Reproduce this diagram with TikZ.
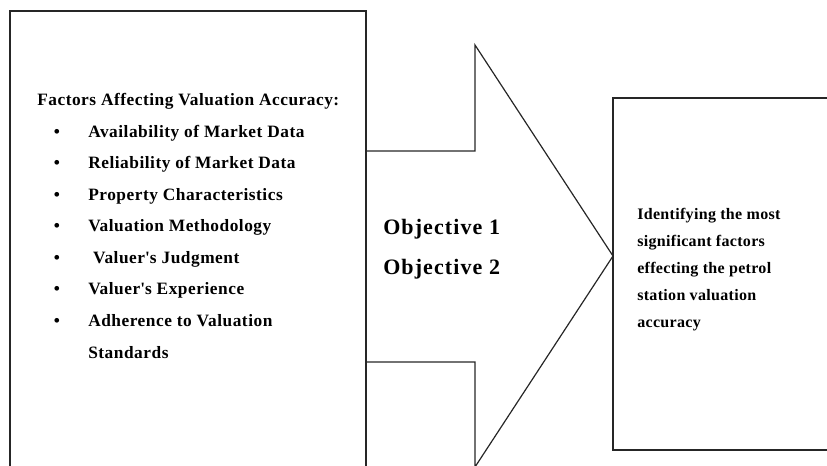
\documentclass[tikz,border=0pt]{standalone}
\usepackage{fontspec}
\setmainfont{Liberation Serif}
\newfontfamily\lsleft[LetterSpace=3]{Liberation Serif}
\newfontfamily\lsobj[LetterSpace=5]{Liberation Serif}
\newfontfamily\lsright[LetterSpace=2]{Liberation Serif}
\begin{document}
\begin{tikzpicture}[x=0.75pt,y=-0.75pt,
  outline/.style={draw=black!85,line width=0.9pt,line join=miter},
  lefttext/.style={anchor=base west,inner sep=0pt,font=\lsleft\bfseries\fontsize{13}{15}\selectfont},
  bul/.style={anchor=base,inner sep=0pt,font=\bfseries\fontsize{13}{15}\selectfont},
  objtext/.style={anchor=base west,inner sep=0pt,font=\lsobj\bfseries\fontsize{16.5}{19}\selectfont},
  righttext/.style={anchor=base west,inner sep=0pt,font=\lsright\bfseries\fontsize{12}{14}\selectfont}]
\useasboundingbox (0,0) rectangle (827,466);
% left box (bottom runs off the picture)
\coordinate (lbl) at (10,470);
\coordinate (ltl) at (10,11);
\coordinate (ltr) at (366,11);
\coordinate (lbr) at (366,470);
\draw[outline] (lbl) -- (ltl) -- (ltr) -- (lbr);
% block arrow
\coordinate (a1) at (366,151);
\coordinate (a2) at (475,151);
\coordinate (a3) at (475,45);
\coordinate (tip) at (613,256);
\coordinate (a5) at (475,467);
\coordinate (a6) at (475,362);
\coordinate (a7) at (366,362);
\draw[outline] (a1) -- (a2) -- (a3) -- (tip) -- (a5) -- (a6) -- (a7);
% right box (right side runs off the picture)
\coordinate (rtr) at (830,98);
\coordinate (rtl) at (613,98);
\coordinate (rbl) at (613,450);
\coordinate (rbr) at (830,450);
\draw[outline] (rtr) -- (rtl) -- (rbl) -- (rbr);
% left texts
\node[lefttext] (title) at (37,106) {Factors Affecting Valuation Accuracy:};
\foreach \i/\t in {1/Availability of Market Data,2/Reliability of Market Data,3/Property Characteristics,4/Valuation Methodology,5/\ Valuer\textquotesingle s Judgment,6/Valuer\textquotesingle s Experience,7/Adherence to Valuation}{
  \node[bul] (b\i) at (57,{106+31.5*\i}) {\textbullet};
  \node[lefttext] (f\i) at (88,{106+31.5*\i}) {\t};
}
\node[lefttext] (f8) at (88,358) {Standards};
% objectives
\node[objtext] (o1) at (383,235) {Objective 1};
\node[objtext] (o2) at (383,275) {Objective 2};
% right texts
\node[righttext] (r1) at (637,219.5) {Identifying the most};
\node[righttext] (r2) at (637,246.5) {significant factors};
\node[righttext] (r3) at (637,273.5) {effecting the petrol};
\node[righttext] (r4) at (637,300.5) {station valuation};
\node[righttext] (r5) at (637,327.5) {accuracy};
\end{tikzpicture}
\end{document}
